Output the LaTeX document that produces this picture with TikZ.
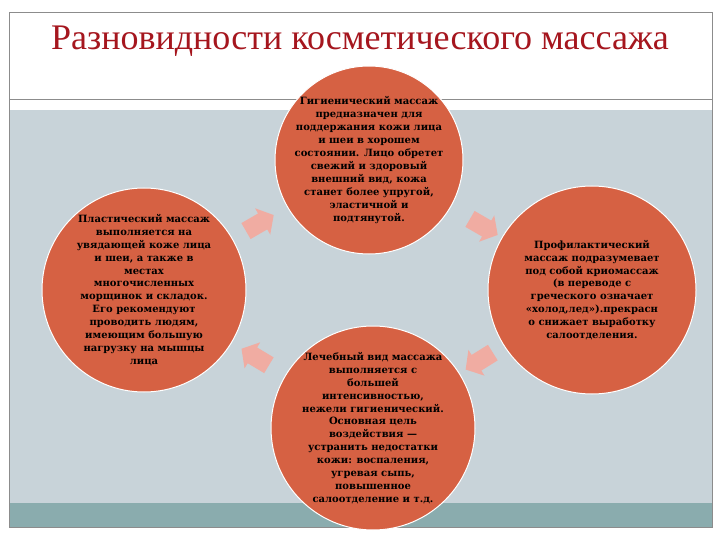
\documentclass[tikz,border=0pt]{standalone}
\usepackage{fontspec}
\setmainfont{Liberation Serif}
\newfontfamily\bubblefont{DejaVu Serif}
\usetikzlibrary{calc}
\usetikzlibrary{shapes.arrows}

\definecolor{titlered}{RGB}{165,22,30}
\definecolor{bubblered}{RGB}{214,97,67}
\definecolor{arrowpink}{RGB}{240,172,162}
\definecolor{bandgrey}{RGB}{200,211,217}
\definecolor{bandteal}{RGB}{138,172,174}
\definecolor{framegrey}{RGB}{140,140,140}

\tikzset{
	bubble/.style={circle, fill=bubblered, draw=white, line width=1pt, inner sep=0pt},
	bubbletext/.style={align=center, inner sep=0pt, text=black, font=\bubblefont\bfseries\fontsize{10}{12.9}\selectfont},
	cyclearrow/.style={single arrow, fill=arrowpink, draw=none, inner sep=9pt, minimum height=32pt, single arrow head extend=6pt, single arrow tip angle=100}
}

\newcommand{\drawbubble}[5]{% x, y, radius, name, text
	\node[bubble, minimum size=2*#3] (#4) at (#1, #2) {};
	\node[bubbletext] (#4text) at (#4.center) {#5};
}
\newcommand{\drawcyclearrow}[4]{% from, to, angle, name
	\node[cyclearrow, rotate=#3] (#4) at ($(#1)!0.5!(#2)$) {};
}

\begin{document}
\begin{tikzpicture}[x=1pt, y=-1pt]
\useasboundingbox (0,0) rectangle (720,540);

% slide
\fill[bandgrey] (9,110) rectangle (712,503);
\fill[bandteal] (9,503) rectangle (712,527);
\draw[framegrey, line width=0.6pt] (9,12) rectangle (712,527);
\draw[framegrey, line width=1pt] (9,100) -- (712,100);

\node[text=titlered, font=\fontsize{36}{40}\selectfont] (title) at (360,41) {Разновидности косметического массажа};

% bubbles
\drawbubble{369}{160}{94}{hyg}{Гигиенический массаж\\предназначен для\\поддержания кожи лица\\и шеи в хорошем\\состоянии. Лицо обретет\\свежий и здоровый\\внешний вид, кожа\\станет более упругой,\\эластичной и\\подтянутой.}
\drawbubble{144}{290}{102}{plast}{Пластический массаж\\выполняется на\\увядающей коже лица\\и шеи, а также в\\местах\\многочисленных\\морщинок и складок.\\Его рекомендуют\\проводить людям,\\имеющим большую\\нагрузку на мышцы\\лица}
\drawbubble{592}{290}{104}{prof}{Профилактический\\массаж подразумевает\\под собой криомассаж\\(в переводе с\\греческого означает\\«холод,лед»).прекрасн\\о снижает выработку\\салоотделения.}
\drawbubble{373}{428}{102}{lech}{Лечебный вид массажа\\выполняется с\\большей\\интенсивностью,\\нежели гигиенический.\\Основная цель\\воздействия —\\устранить недостатки\\кожи: воспаления,\\угревая сыпь,\\повышенное\\салоотделение и т.д.}

% arrows
\drawcyclearrow{plast}{hyg}{30}{arrowlt}
\drawcyclearrow{hyg}{prof}{-30}{arrowrt}
\drawcyclearrow{prof}{lech}{-148}{arrowrb}
\drawcyclearrow{lech}{plast}{149}{arrowlb}
\end{tikzpicture}
\end{document}
